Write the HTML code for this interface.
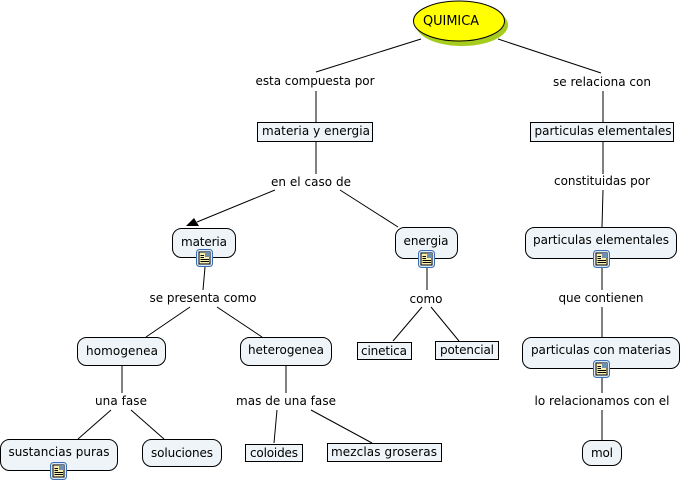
<!DOCTYPE html>
<html>
<head>
<meta charset="utf-8">
<style>
html,body{margin:0;padding:0;background:#fff;}
svg{display:block;}
text{font-family:"DejaVu Sans","Liberation Sans",sans-serif;font-size:12px;fill:#000;text-anchor:middle;}
.n{fill:#eef4f7;stroke:#000;stroke-width:1;}
.l{stroke:#000;stroke-width:1;fill:none;}
</style>
</head>
<body>
<svg width="682" height="482" viewBox="0 0 682 482" xmlns="http://www.w3.org/2000/svg">
<defs>
<g id="ic">
<rect x="0.5" y="0.5" width="16" height="17" rx="3" fill="#dbe8f5" stroke="#3a6fb5" stroke-width="1"/>
<rect x="3" y="3" width="11" height="12" fill="#f8eeb0" stroke="#000" stroke-width="1"/>
<rect x="9" y="3" width="5" height="5" fill="#6f8fb0"/>
<path d="M4.500 6.500H8M4.500 8.500H8M4.500 10.500H13M4.500 12.500H13" stroke="#000" stroke-width="1"/>
</g>
</defs>

<g class="l">
<line x1="421" y1="39" x2="316" y2="72"/>
<line x1="316" y1="91" x2="316" y2="122"/>
<line x1="498" y1="39" x2="601" y2="73"/>
<line x1="603" y1="91" x2="603" y2="122"/>
<line x1="316" y1="142" x2="316" y2="174"/>
<line x1="275" y1="190" x2="197" y2="222"/>
<line x1="340" y1="190" x2="398" y2="227"/>
<line x1="603" y1="142" x2="603" y2="174"/>
<line x1="603" y1="190" x2="602" y2="227"/>
<line x1="205" y1="267" x2="203" y2="290"/>
<line x1="190" y1="307" x2="146" y2="337"/>
<line x1="217" y1="307" x2="262" y2="337"/>
<line x1="427" y1="268" x2="427" y2="290"/>
<line x1="422" y1="307" x2="393" y2="341"/>
<line x1="431" y1="307" x2="459" y2="341"/>
<line x1="602" y1="268" x2="602" y2="290"/>
<line x1="602" y1="307" x2="602" y2="337"/>
<line x1="602" y1="378" x2="602" y2="393"/>
<line x1="602" y1="410" x2="602" y2="440"/>
<line x1="122" y1="366" x2="122" y2="393"/>
<line x1="111" y1="410" x2="78" y2="439"/>
<line x1="131" y1="410" x2="164" y2="439"/>
<line x1="286" y1="366" x2="286" y2="393"/>
<line x1="277" y1="410" x2="274" y2="443"/>
<line x1="311" y1="410" x2="372" y2="443"/>
</g>
<polygon points="186,226 194,218 199,226" fill="#000"/>

<ellipse cx="462" cy="25" rx="46" ry="21" fill="#a6cc1e"/>
<ellipse cx="459" cy="21" rx="45.500" ry="20" fill="#ffff00" stroke="#000" stroke-width="1"/>
<text x="451" y="25" textLength="56" lengthAdjust="spacingAndGlyphs" style="font-size:13px">QUIMICA</text>

<rect class="n" x="257.500" y="122.500" width="115" height="19"/>
<text x="316" y="135" textLength="108">materia y energia</text>

<rect class="n" x="530.500" y="122.500" width="143" height="19"/>
<text x="603" y="135" textLength="137">particulas elementales</text>

<rect class="n" x="172.500" y="228.500" width="63" height="29" rx="9"/>
<text x="204" y="246" textLength="46">materia</text>

<rect class="n" x="395.500" y="227.500" width="62" height="31" rx="9"/>
<text x="426" y="245" textLength="45">energia</text>

<rect class="n" x="525.500" y="227.500" width="151" height="31" rx="9"/>
<text x="601" y="244" textLength="136">particulas elementales</text>

<rect class="n" x="77.500" y="337.500" width="88" height="28" rx="9"/>
<text x="122" y="355" textLength="72">homogenea</text>

<rect class="n" x="240.500" y="337.500" width="91" height="28" rx="9"/>
<text x="286" y="354" textLength="76">heterogenea</text>

<rect class="n" x="522.500" y="337.500" width="157" height="31" rx="9"/>
<text x="601" y="354" textLength="140">particulas con materias</text>

<rect class="n" x="357.500" y="342.500" width="54" height="17"/>
<text x="384" y="355" textLength="46">cinetica</text>

<rect class="n" x="435.500" y="341.500" width="63" height="18"/>
<text x="467" y="354" textLength="54">potencial</text>

<rect class="n" x="0.500" y="439.500" width="117" height="31" rx="9"/>
<text x="59" y="456" textLength="101">sustancias puras</text>

<rect class="n" x="142.500" y="439.500" width="79" height="27" rx="9"/>
<text x="182" y="457" textLength="62">soluciones</text>

<rect class="n" x="245.500" y="444.500" width="57" height="17"/>
<text x="274" y="457" textLength="48">coloides</text>

<rect class="n" x="327.500" y="443.500" width="114" height="18"/>
<text x="384" y="456" textLength="106">mezclas groseras</text>

<rect class="n" x="582.500" y="440.500" width="39" height="25" rx="9"/>
<text x="602" y="457" textLength="22">mol</text>

<use href="#ic" x="196" y="249"/>
<use href="#ic" x="418" y="250"/>
<use href="#ic" x="593" y="250"/>
<use href="#ic" x="593" y="360"/>
<use href="#ic" x="50" y="462"/>

<text x="315" y="85" textLength="119">esta compuesta por</text>
<text x="602" y="86" textLength="98">se relaciona con</text>
<text x="311" y="186" textLength="80">en el caso de</text>
<text x="602" y="185" textLength="96">constituidas por</text>
<text x="203" y="302" textLength="107">se presenta como</text>
<text x="426" y="303" textLength="33">como</text>
<text x="601" y="302" textLength="85">que contienen</text>
<text x="121" y="405" textLength="52">una fase</text>
<text x="286" y="405" textLength="100">mas de una fase</text>
<text x="602" y="405" textLength="135">lo relacionamos con el</text>
</svg>
</body>
</html>
